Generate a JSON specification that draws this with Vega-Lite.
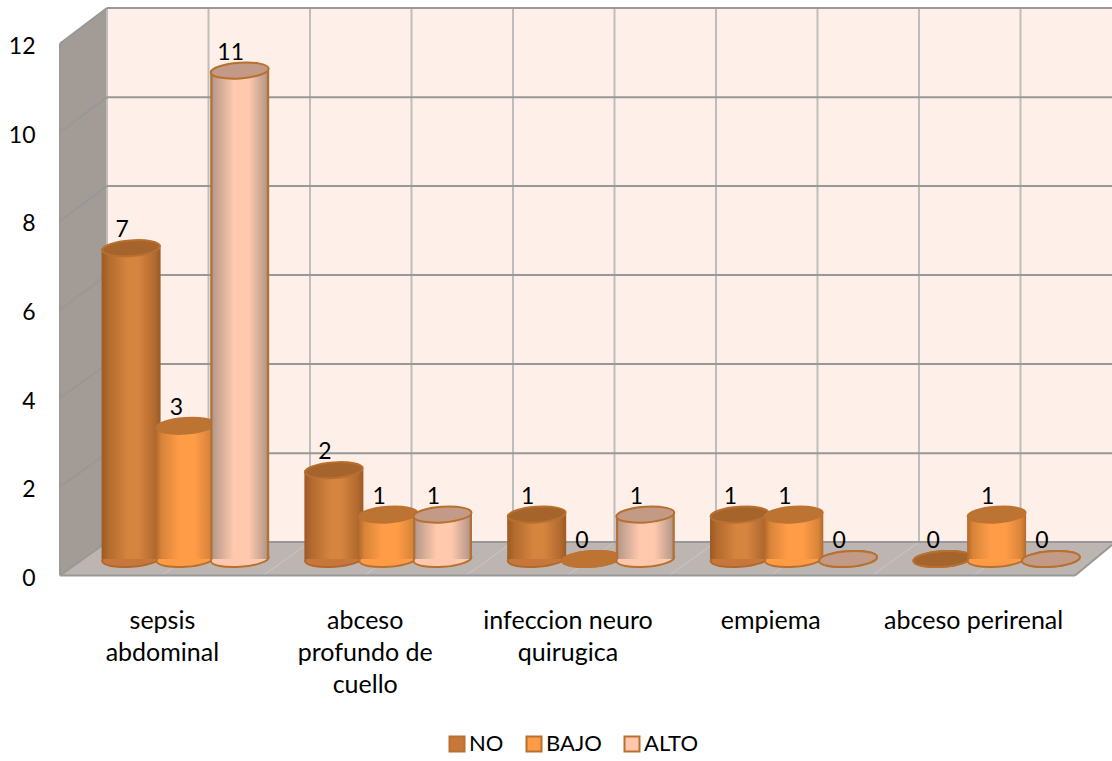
{
  "$schema": "https://vega.github.io/schema/vega-lite/v6.json",
  "width": 1112,
  "height": 761,
  "padding": 0,
  "autosize": {"type": "none"},
  "background": "#ffffff",
  "config": {"view": {"stroke": null}, "font": "Lato", "text": {"font": "Lato"}},
  "datasets": {
    "casos": [
      {"categoria": "sepsis abdominal", "riesgo": "NO", "casos": 7},
      {"categoria": "sepsis abdominal", "riesgo": "BAJO", "casos": 3},
      {"categoria": "sepsis abdominal", "riesgo": "ALTO", "casos": 11},
      {"categoria": "abceso profundo de cuello", "riesgo": "NO", "casos": 2},
      {"categoria": "abceso profundo de cuello", "riesgo": "BAJO", "casos": 1},
      {"categoria": "abceso profundo de cuello", "riesgo": "ALTO", "casos": 1},
      {"categoria": "infeccion neuro quirugica", "riesgo": "NO", "casos": 1},
      {"categoria": "infeccion neuro quirugica", "riesgo": "BAJO", "casos": 0},
      {"categoria": "infeccion neuro quirugica", "riesgo": "ALTO", "casos": 1},
      {"categoria": "empiema", "riesgo": "NO", "casos": 1},
      {"categoria": "empiema", "riesgo": "BAJO", "casos": 1},
      {"categoria": "empiema", "riesgo": "ALTO", "casos": 0},
      {"categoria": "abceso perirenal", "riesgo": "NO", "casos": 0},
      {"categoria": "abceso perirenal", "riesgo": "BAJO", "casos": 1},
      {"categoria": "abceso perirenal", "riesgo": "ALTO", "casos": 0}
    ],
    "paredes": [
      {"plano": "lateral", "u": 0, "lo": 0, "hi": 12},
      {"plano": "lateral", "u": 0.2315, "lo": 0.756, "hi": 12.8},
      {"plano": "suelo", "u": 0, "lo": 0, "hi": 0},
      {"plano": "suelo", "u": 0.2315, "lo": 0, "hi": 0.756},
      {"plano": "suelo", "u": 5, "lo": 0, "hi": 0.756},
      {"plano": "suelo", "u": 5.1823, "lo": 0.69, "hi": 0.756}
    ],
    "fondo": [{"u": 0.2315, "u2": 5.1823, "lo": 0.756, "hi": 12.8}],
    "rejilla": [
      {"tipo": "h", "u": 0.2315, "u2": 5.1823, "v": 0.756, "v2": 0.756},
      {"tipo": "h", "u": 0.2315, "u2": 5.1823, "v": 2.76, "v2": 2.76},
      {"tipo": "h", "u": 0.2315, "u2": 5.1823, "v": 4.77, "v2": 4.77},
      {"tipo": "h", "u": 0.2315, "u2": 5.1823, "v": 6.78, "v2": 6.78},
      {"tipo": "h", "u": 0.2315, "u2": 5.1823, "v": 8.786, "v2": 8.786},
      {"tipo": "h", "u": 0.2315, "u2": 5.1823, "v": 10.79, "v2": 10.79},
      {"tipo": "h", "u": 0.2315, "u2": 5.1823, "v": 12.8, "v2": 12.8},
      {"tipo": "h", "u": 0, "u2": 0.2315, "v": 0, "v2": 0.756},
      {"tipo": "h", "u": 0, "u2": 0.2315, "v": 2, "v2": 2.76},
      {"tipo": "h", "u": 0, "u2": 0.2315, "v": 4, "v2": 4.77},
      {"tipo": "h", "u": 0, "u2": 0.2315, "v": 6, "v2": 6.78},
      {"tipo": "h", "u": 0, "u2": 0.2315, "v": 8, "v2": 8.786},
      {"tipo": "h", "u": 0, "u2": 0.2315, "v": 10, "v2": 10.79},
      {"tipo": "h", "u": 0, "u2": 0.2315, "v": 12, "v2": 12.8},
      {"tipo": "h", "u": 0, "u2": 0, "v": 0, "v2": 12},
      {"tipo": "h", "u": 0, "u2": 5, "v": 0, "v2": 0},
      {"tipo": "h", "u": 5, "u2": 5.1823, "v": 0, "v2": 0.69},
      {"tipo": "v", "u": 0.2315, "u2": 0.2315, "v": 0.756, "v2": 12.8},
      {"tipo": "v", "u": 0.7315, "u2": 0.7315, "v": 0.756, "v2": 12.8},
      {"tipo": "v", "u": 1.2315, "u2": 1.2315, "v": 0.756, "v2": 12.8},
      {"tipo": "v", "u": 1.7315, "u2": 1.7315, "v": 0.756, "v2": 12.8},
      {"tipo": "v", "u": 2.2315, "u2": 2.2315, "v": 0.756, "v2": 12.8},
      {"tipo": "v", "u": 2.7315, "u2": 2.7315, "v": 0.756, "v2": 12.8},
      {"tipo": "v", "u": 3.2315, "u2": 3.2315, "v": 0.756, "v2": 12.8},
      {"tipo": "v", "u": 3.7315, "u2": 3.7315, "v": 0.756, "v2": 12.8},
      {"tipo": "v", "u": 4.2315, "u2": 4.2315, "v": 0.756, "v2": 12.8},
      {"tipo": "v", "u": 4.7315, "u2": 4.7315, "v": 0.756, "v2": 12.8},
      {"tipo": "s", "u": 0.5, "u2": 0.7315, "v": 0, "v2": 0.756},
      {"tipo": "s", "u": 1, "u2": 1.2315, "v": 0, "v2": 0.756},
      {"tipo": "s", "u": 1.5, "u2": 1.7315, "v": 0, "v2": 0.756},
      {"tipo": "s", "u": 2, "u2": 2.2315, "v": 0, "v2": 0.756},
      {"tipo": "s", "u": 2.5, "u2": 2.7315, "v": 0, "v2": 0.756},
      {"tipo": "s", "u": 3, "u2": 3.2315, "v": 0, "v2": 0.756},
      {"tipo": "s", "u": 3.5, "u2": 3.7315, "v": 0, "v2": 0.756},
      {"tipo": "s", "u": 4, "u2": 4.2315, "v": 0, "v2": 0.756},
      {"tipo": "s", "u": 4.5, "u2": 4.7315, "v": 0, "v2": 0.756}
    ]
  },
  "layer": [
    {
      "layer": [
        {
          "data": {"name": "fondo"},
          "mark": {"type": "rect", "fill": "#FEF0E8"},
          "encoding": {
            "x": {"field": "u", "type": "quantitative", "scale": {"domain": [-0.29557, 5.1823], "nice": false, "zero": false}, "axis": null},
            "x2": {"field": "u2"},
            "y": {"field": "lo", "type": "quantitative", "scale": {"domain": [-4.184, 12.982], "nice": false, "zero": false},
              "axis": {"title": null, "values": [0, 2, 4, 6, 8, 10, 12], "orient": "left", "offset": -35, "domain": false, "ticks": false, "grid": false, "labelPadding": 0, "labelOffset": 3, "labelFont": "Lato", "labelFontSize": 23, "labelColor": "#000000"}},
            "y2": {"field": "hi"}
          }
        },
        {
          "data": {"name": "paredes"},
          "transform": [{"filter": "datum.plano == 'lateral'"}],
          "mark": {"type": "area", "fill": "#A39B96", "opacity": 1},
          "encoding": {
            "x": {"field": "u", "type": "quantitative"},
            "y": {"field": "hi", "type": "quantitative"},
            "y2": {"field": "lo"}
          }
        },
        {
          "data": {"name": "paredes"},
          "transform": [{"filter": "datum.plano == 'suelo'"}],
          "mark": {"type": "area", "fill": "#BDB5B1", "opacity": 1},
          "encoding": {
            "x": {"field": "u", "type": "quantitative"},
            "y": {"field": "hi", "type": "quantitative"},
            "y2": {"field": "lo"}
          }
        },
        {
          "data": {"name": "rejilla"},
          "transform": [{"filter": "datum.tipo == 's'"}],
          "mark": {"type": "rule", "stroke": "#CBC8C5", "strokeWidth": 1},
          "encoding": {
            "x": {"field": "u", "type": "quantitative"},
            "x2": {"field": "u2"},
            "y": {"field": "v", "type": "quantitative"},
            "y2": {"field": "v2"}
          }
        },
        {
          "data": {"name": "rejilla"},
          "transform": [{"filter": "datum.tipo == 'v'"}],
          "mark": {"type": "rule", "stroke": "#BDBDBB", "strokeWidth": 2},
          "encoding": {
            "x": {"field": "u", "type": "quantitative"},
            "x2": {"field": "u2"},
            "y": {"field": "v", "type": "quantitative"},
            "y2": {"field": "v2"}
          }
        },
        {
          "data": {"name": "rejilla"},
          "transform": [{"filter": "datum.tipo == 'h'"}],
          "mark": {"type": "rule", "stroke": "#979897", "strokeWidth": 2},
          "encoding": {
            "x": {"field": "u", "type": "quantitative"},
            "x2": {"field": "u2"},
            "y": {"field": "v", "type": "quantitative"},
            "y2": {"field": "v2"}
          }
        }
      ]
    },
    {
      "data": {"name": "casos"},
      "encoding": {
        "x": {
          "field": "categoria", "type": "nominal", "sort": null,
          "scale": {"domain": ["sepsis abdominal", "abceso profundo de cuello", "infeccion neuro quirugica", "empiema", "abceso perirenal"], "range": [84, 1098], "paddingInner": 0, "paddingOuter": 0},
          "axis": {
            "title": null, "orient": "bottom", "offset": -153, "domain": false, "ticks": false, "grid": false, "labelAngle": 0,
            "labelFont": "Lato", "labelFontSize": 25, "labelColor": "#000000", "labelLineHeight": 32, "labelBaseline": "top", "labelPadding": 0,
            "labelOffset": -23,
            "labelExpr": "({'sepsis abdominal': ['sepsis', 'abdominal'], 'abceso profundo de cuello': ['abceso', 'profundo de', 'cuello'], 'infeccion neuro quirugica': ['infeccion neuro', 'quirugica'], 'empiema': ['empiema'], 'abceso perirenal': ['abceso perirenal']})[datum.label]"
          }
        },
        "xOffset": {"field": "riesgo", "type": "nominal", "sort": null, "scale": {"domain": ["NO", "BAJO", "ALTO"], "paddingInner": 0, "paddingOuter": 0.367}},
        "y": {"field": "casos", "type": "quantitative", "scale": {"domain": [-4.55, 12.59], "nice": false, "zero": false}, "axis": null}
      },
      "layer": [
        {
          "transform": [{"filter": "datum.riesgo == 'NO'"}],
          "layer": [
            {"mark": {"type": "point", "filled": true, "opacity": 1, "size": 3364, "shape": "M-0.9976,0.0698 A1,0.27 -4 1 1 0.9976,-0.0698 A1,0.27 -4 1 1 -0.9976,0.0698 Z", "stroke": "#B0692D", "strokeWidth": 2},
              "encoding": {"y": {"datum": 0, "type": "quantitative"}, "color": {"field": "riesgo", "type": "nominal", "sort": null,
                "scale": {"domain": ["NO", "BAJO", "ALTO"], "range": ["#C8773A", "#FF9A45", "#FFC8AC"]},
                "legend": {"title": null, "orient": "none", "legendX": 446, "legendY": 733, "direction": "horizontal", "columns": 3, "symbolType": "square", "symbolSize": 225, "symbolStrokeColor": "#B5702F", "symbolStrokeWidth": 2, "symbolOpacity": 1, "labelFont": "Lato", "labelFontSize": 22, "labelColor": "#000000", "labelOffset": 1, "columnPadding": 18, "gridAlign": "none"}}}},
            {"mark": {"type": "bar", "width": 59, "fill": {"gradient": "linear", "x1": 0, "y1": 0, "x2": 1, "y2": 0, "stops": [{"offset": 0, "color": "#9C5A26"}, {"offset": 0.12, "color": "#B26A2E"}, {"offset": 0.45, "color": "#D6853F"}, {"offset": 0.62, "color": "#D6853F"}, {"offset": 0.9, "color": "#B26A2E"}, {"offset": 1, "color": "#9C5A26"}]}}},
            {"mark": {"type": "point", "filled": true, "opacity": 1, "size": 3364, "shape": "M-0.9976,0.0698 A1,0.27 -4 1 1 0.9976,-0.0698 A1,0.27 -4 1 1 -0.9976,0.0698 Z", "fill": "#A4642C", "stroke": "#B8702F", "strokeWidth": 2}}
          ]
        },
        {
          "transform": [{"filter": "datum.riesgo == 'BAJO'"}],
          "layer": [
            {"mark": {"type": "point", "filled": true, "opacity": 1, "size": 3364, "shape": "M-0.9976,0.0698 A1,0.27 -4 1 1 0.9976,-0.0698 A1,0.27 -4 1 1 -0.9976,0.0698 Z", "stroke": "#B8702F", "strokeWidth": 2},
              "encoding": {"y": {"datum": 0, "type": "quantitative"}, "color": {"field": "riesgo", "type": "nominal", "sort": null}}},
            {"mark": {"type": "bar", "width": 59, "fill": {"gradient": "linear", "x1": 0, "y1": 0, "x2": 1, "y2": 0, "stops": [{"offset": 0, "color": "#B26A2E"}, {"offset": 0.1, "color": "#D98438"}, {"offset": 0.4, "color": "#FF9C48"}, {"offset": 0.65, "color": "#FF9C48"}, {"offset": 0.92, "color": "#D98438"}, {"offset": 1, "color": "#B26A2E"}]}}},
            {"mark": {"type": "point", "filled": true, "opacity": 1, "size": 3364, "shape": "M-0.9976,0.0698 A1,0.27 -4 1 1 0.9976,-0.0698 A1,0.27 -4 1 1 -0.9976,0.0698 Z", "fill": "#BD7332", "stroke": "#BD7332", "strokeWidth": 2}}
          ]
        },
        {
          "transform": [{"filter": "datum.riesgo == 'ALTO'"}],
          "layer": [
            {"mark": {"type": "point", "filled": true, "opacity": 1, "size": 3364, "shape": "M-0.9976,0.0698 A1,0.27 -4 1 1 0.9976,-0.0698 A1,0.27 -4 1 1 -0.9976,0.0698 Z", "stroke": "#B8702F", "strokeWidth": 2},
              "encoding": {"y": {"datum": 0, "type": "quantitative"}, "color": {"field": "riesgo", "type": "nominal", "sort": null}}},
            {"mark": {"type": "bar", "width": 59, "fill": {"gradient": "linear", "x1": 0, "y1": 0, "x2": 1, "y2": 0, "stops": [{"offset": 0, "color": "#B0713A"}, {"offset": 0.03, "color": "#B0713A"}, {"offset": 0.05, "color": "#B89A8A"}, {"offset": 0.4, "color": "#FFC9AE"}, {"offset": 0.65, "color": "#FFC9AE"}, {"offset": 0.95, "color": "#B89A8A"}, {"offset": 0.97, "color": "#B0713A"}, {"offset": 1, "color": "#B0713A"}]}}},
            {"mark": {"type": "point", "filled": true, "opacity": 1, "size": 3364, "shape": "M-0.9976,0.0698 A1,0.27 -4 1 1 0.9976,-0.0698 A1,0.27 -4 1 1 -0.9976,0.0698 Z", "fill": "#C29A85", "stroke": "#B8702F", "strokeWidth": 2}}
          ]
        },
        {
          "mark": {"type": "text", "font": "Lato", "fontSize": 23, "color": "#000000", "dx": -9, "dy": -18},
          "encoding": {"text": {"field": "casos", "type": "quantitative"}}
        }
      ]
    }
  ],
  "resolve": {"scale": {"x": "independent", "y": "independent"}, "axis": {"x": "independent", "y": "independent"}}
}
